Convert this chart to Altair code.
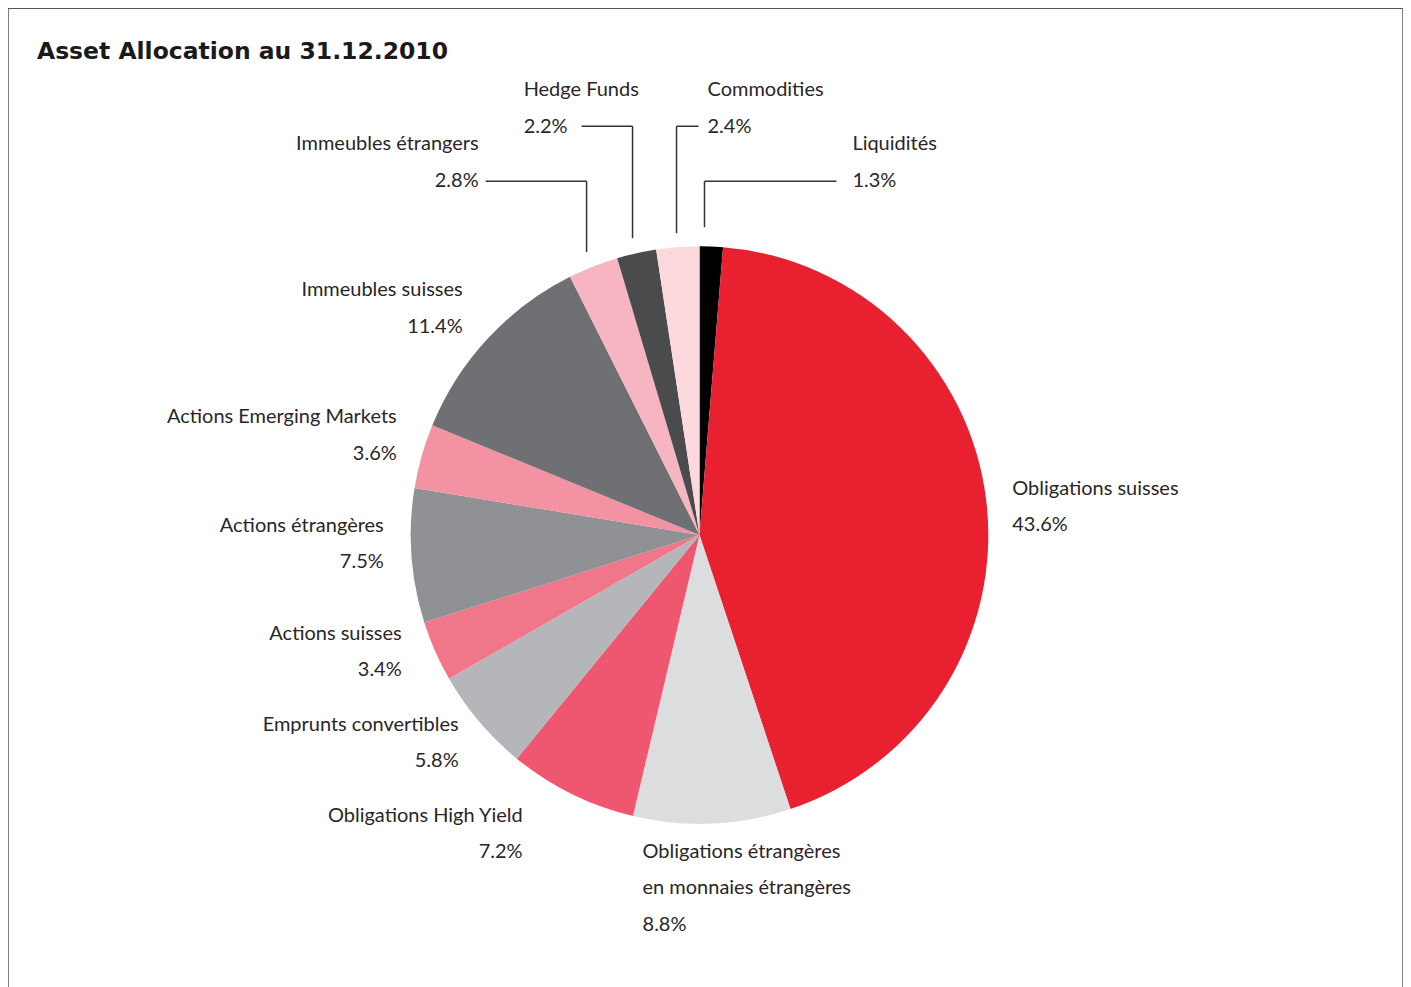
import altair as alt
import pandas as pd

categories = ["Liquidités", "Obligations suisses", "Obligations étrangères en monnaies étrangères",
              "Obligations High Yield", "Emprunts convertibles", "Actions suisses",
              "Actions étrangères", "Actions Emerging Markets", "Immeubles suisses",
              "Immeubles étrangers", "Hedge Funds", "Commodities"]
values = [1.3, 43.6, 8.8, 7.2, 5.8, 3.4, 7.5, 3.6, 11.4, 2.8, 2.2, 2.4]
colors = ["#000000", "#E8202F", "#DCDDDF", "#EF5670", "#B5B6B9", "#F0768A",
          "#909195", "#F392A2", "#6F7074", "#F7B5C2", "#4A4B4D", "#FDD9DE"]
label_lines = [["Liquidités"], ["Obligations suisses"],
               ["Obligations étrangères", "en monnaies étrangères"],
               ["Obligations High Yield"], ["Emprunts convertibles"], ["Actions suisses"],
               ["Actions étrangères"], ["Actions Emerging Markets"], ["Immeubles suisses"],
               ["Immeubles étrangers"], ["Hedge Funds"], ["Commodities"]]

# layout (image pixel coordinates), offset by page margin
OX, OY = 8, 8
label_anchor = [(853, 144, "left"), (1013, 489, "left"), (643, 852, "left"),
                (523, 816, "right"), (459, 725, "right"), (402, 634, "right"),
                (384, 526, "right"), (397, 417, "right"), (463, 290, "right"),
                (479, 144, "right"), (524, 90, "left"), (708, 90, "left")]
LINE_GAP = 36.5
leaders = [
    [(486, 181), (587, 181), (587, 252)],
    [(582, 126), (633, 126), (633, 238)],
    [(699, 126), (677, 126), (677, 233)],
    [(837, 181), (705, 181), (705, 227)],
]
CX, CY, R = 700, 535, 289

df = pd.DataFrame({"cat": categories, "val": values, "idx": list(range(len(values)))})

pie = alt.Chart(df).mark_arc(outerRadius=R).encode(
    theta=alt.Theta("val:Q", stack=True),
    order=alt.Order("idx:Q"),
    color=alt.Color("cat:N", scale=alt.Scale(domain=categories, range=colors), legend=None),
    x=alt.value(CX - OX), y=alt.value(CY - OY),
)

rows = []
for lines, v, (ax, ay, al) in zip(label_lines, values, label_anchor):
    texts = lines + [f"{v:.1f}%"]
    for i, t in enumerate(texts):
        rows.append({"t": t, "x": ax - OX, "y": ay - OY + i * LINE_GAP, "al": al})
ldf = pd.DataFrame(rows)

font = "Lato"
tcol = "#2A2627"
txt_left = alt.Chart(ldf[ldf.al == "left"]).mark_text(
    align="left", baseline="middle", font=font, fontSize=20, color=tcol
).encode(x=alt.X("x:Q", scale=None), y=alt.Y("y:Q", scale=None), text="t:N")
txt_right = alt.Chart(ldf[ldf.al == "right"]).mark_text(
    align="right", baseline="middle", font=font, fontSize=20, color=tcol
).encode(x=alt.X("x:Q", scale=None), y=alt.Y("y:Q", scale=None), text="t:N")

seg = []
for k, pts in enumerate(leaders):
    for j in range(len(pts) - 1):
        (x1, y1), (x2, y2) = pts[j], pts[j + 1]
        seg.append({"x": x1 - OX, "y": y1 - OY, "x2": x2 - OX, "y2": y2 - OY})
sdf = pd.DataFrame(seg)
rules = alt.Chart(sdf).mark_rule(color="#333333", strokeWidth=1.5).encode(
    x=alt.X("x:Q", scale=None), y=alt.Y("y:Q", scale=None),
    x2="x2:Q", y2="y2:Q")

title = alt.Chart(pd.DataFrame({"t": ["Asset Allocation au 31.12.2010"]})).mark_text(
    align="left", baseline="middle", font="DejaVu Sans", fontSize=23.5, fontWeight="bold", color="#1A1A1A"
).encode(x=alt.value(37 - OX), y=alt.value(52 - OY), text="t:N")

chart = alt.layer(pie, rules, txt_left, txt_right, title).properties(
    width=1396, height=1000, padding=0, autosize=alt.AutoSizeParams(type="none")
).configure_view(stroke="#555555", strokeWidth=1.5)

chart.save("out.html", embed_options={"renderer": "svg", "actions": False})
